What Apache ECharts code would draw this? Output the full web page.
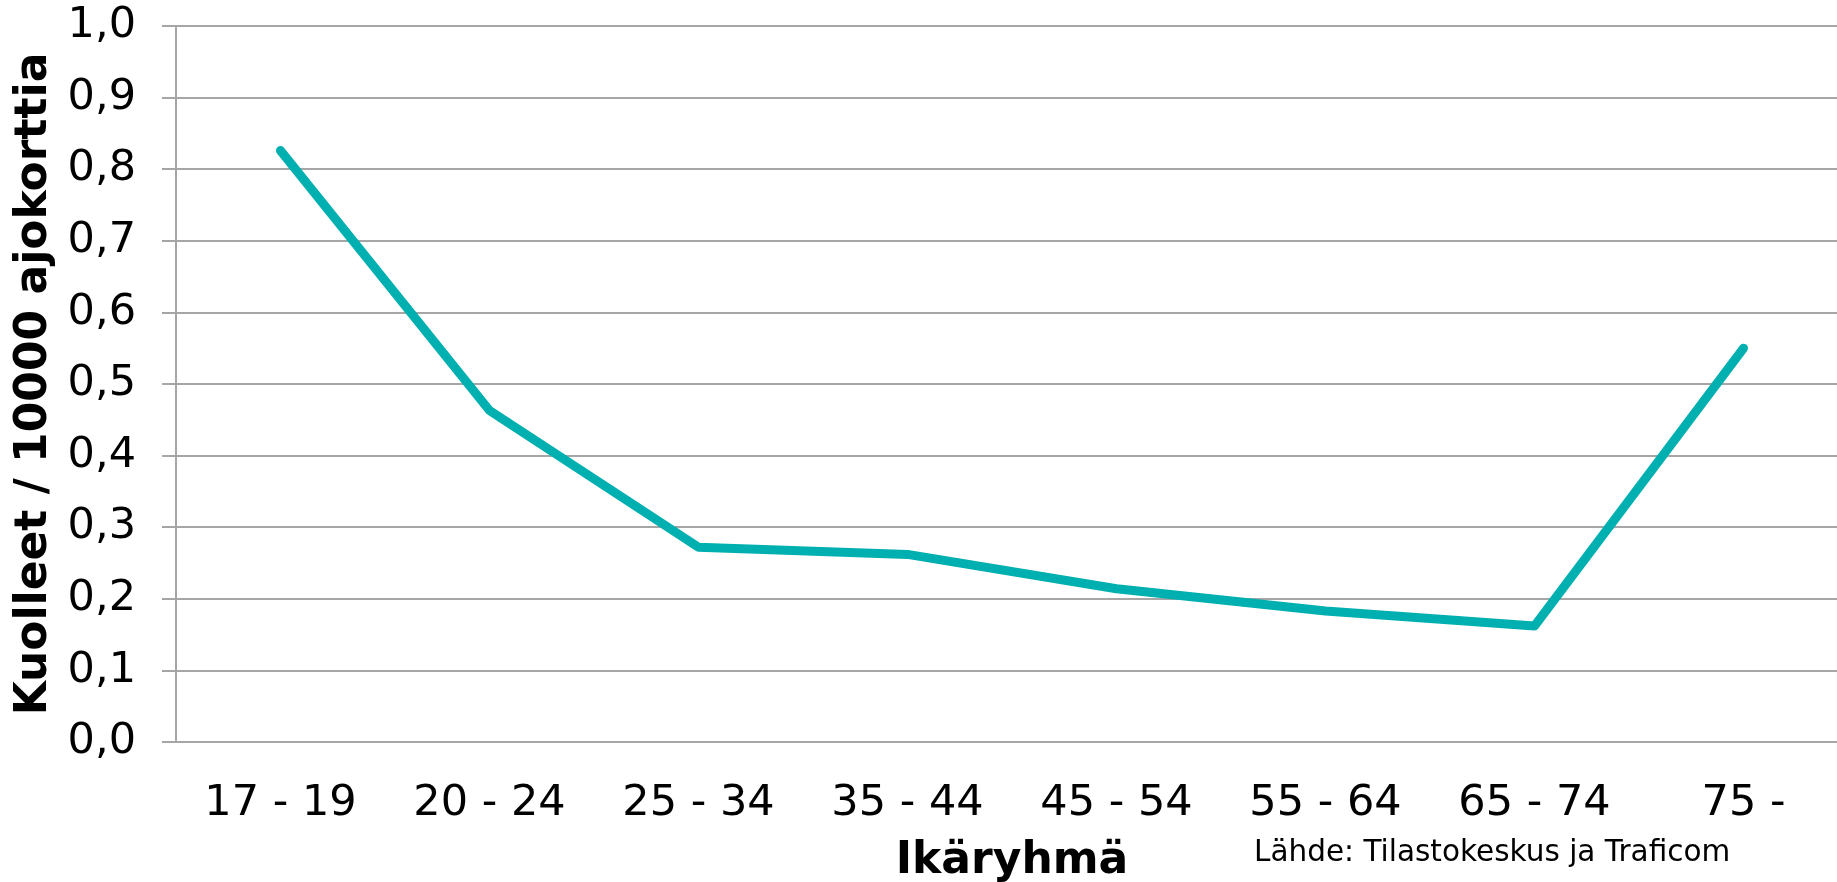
<!DOCTYPE html>
<html>
<head>
<meta charset="utf-8">
<script src="https://cdn.jsdelivr.net/npm/echarts@6/dist/echarts.min.js"></script>
<style>
html, body { margin: 0; padding: 0; background: #fff; }
#chart { width: 1837px; height: 882px; }
</style>
</head>
<body>
<div id="chart"></div>
<script>
// age groups and deaths per 10000 driving licences
var ageGroups = ["17 - 19", "20 - 24", "25 - 34", "35 - 44", "45 - 54", "55 - 64", "65 - 74", "75 -"];
var deathsPerLicence = [0.826, 0.463, 0.272, 0.262, 0.214, 0.183, 0.162, 0.550];

var chart = echarts.init(document.getElementById("chart"));
var gray = "#a6a6a6";
var font = "DejaVu Sans, Verdana, sans-serif";

var option = {
	animation: false,
	backgroundColor: "#fff",
	grid: {
		left: 176,
		right: -11,   // plot area runs a bit past the right edge, as in the original
		top: 26,
		bottom: 140,
		outerBoundsMode: "none"
	},
	xAxis: {
		type: "category",
		data: ageGroups,
		boundaryGap: true,
		name: "Ikäryhmä",
		nameLocation: "middle",
		nameGap: 98,
		nameTextStyle: { fontFamily: font, fontSize: 44, fontWeight: "bold", color: "#000" },
		axisLine: { lineStyle: { color: gray, width: 2 } },
		axisTick: { length: 14, lineStyle: { color: gray, width: 2 } },
		axisLabel: { fontFamily: font, fontSize: 43, color: "#000", margin: 40 }
	},
	yAxis: {
		type: "value",
		min: 0,
		max: 1,
		interval: 0.1,
		name: "Kuolleet / 10000 ajokorttia",
		nameLocation: "middle",
		nameRotate: 90,
		nameGap: 116,
		nameTextStyle: { fontFamily: font, fontSize: 44, fontWeight: "bold", color: "#000" },
		axisLine: { show: true, lineStyle: { color: gray, width: 2 } },
		axisTick: { show: true, length: 14, lineStyle: { color: gray, width: 2 } },
		splitLine: { lineStyle: { color: gray, width: 2 } },
		axisLabel: {
			fontFamily: font, fontSize: 43, color: "#000", margin: 40,
			formatter: function (v) { return v.toFixed(1).replace(".", ","); }
		}
	},
	series: [{
		type: "line",
		data: deathsPerLicence,
		symbol: "none",
		lineStyle: { color: "#00afb0", width: 9, cap: "round", join: "round" }
	}],
	graphic: [{
		type: "text",
		left: 1254,
		top: 838,
		style: {
			text: "Lähde: Tilastokeskus ja Traficom",
			font: "29.5px DejaVu Sans",
			fill: "#000"
		}
	}]
};
chart.setOption(option);
window.addEventListener("resize", chart.resize);
</script>
</body>
</html>
